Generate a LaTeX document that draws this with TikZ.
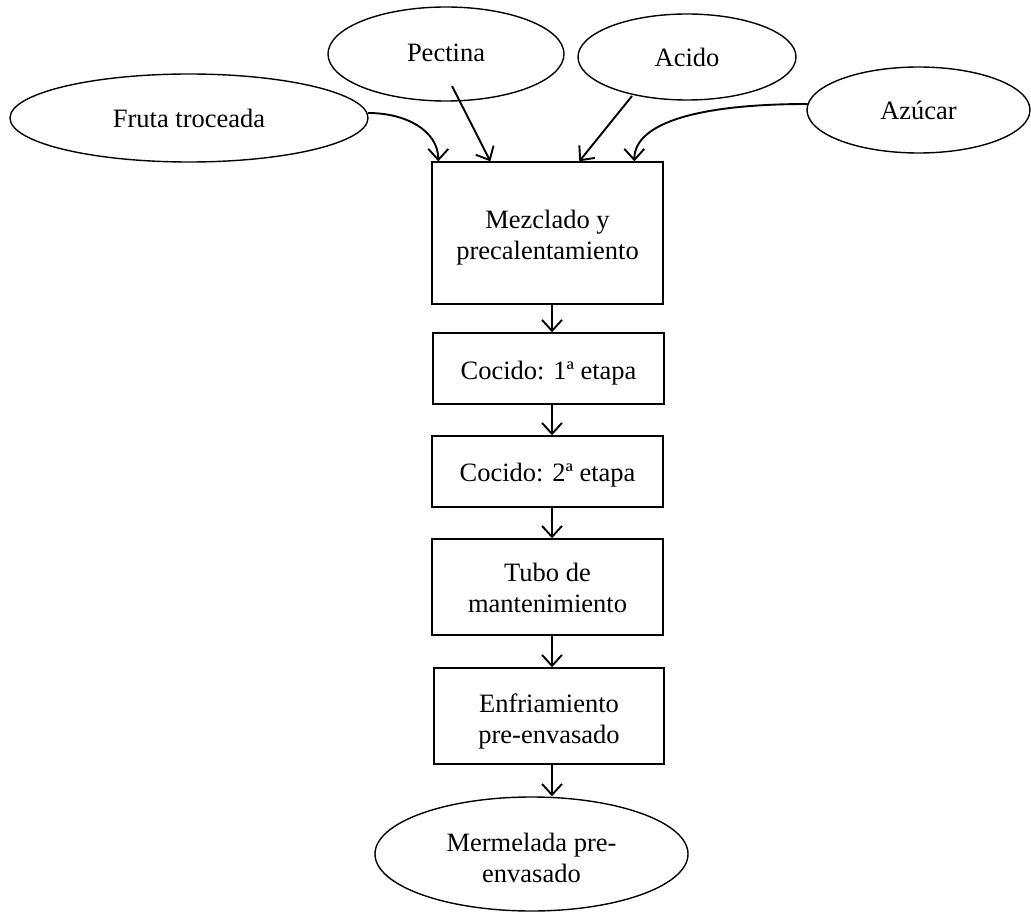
\documentclass[tikz,border=0pt]{standalone}
\usepackage{fontspec}
\setmainfont{Liberation Serif}
\usetikzlibrary{shapes.geometric,arrows.meta,calc}
\begin{document}
\begin{tikzpicture}[x=1pt,y=-1pt,
  font=\fontsize{26.5}{31}\selectfont,
  oval/.style={draw,ellipse,line width=1.4pt,inner sep=0pt,align=center},
  stepbox/.style={draw,rectangle,line width=1.4pt,inner sep=0pt,minimum width=231pt},
  steptext/.style={align=center,inner sep=0pt},
  flow/.style={line width=1.9pt,-{Straight Barb[length=11pt,width=20pt,line width=1.9pt]}}]
\useasboundingbox (0,0) rectangle (1031,912);
% input ellipses
\node[oval,minimum width=358pt,minimum height=88pt] (fruta) at (189,118) {Fruta troceada};
\node[oval,minimum width=236pt,minimum height=94pt] (pectina) at (446,54) {\raisebox{3pt}{Pectina}};
\node[oval,minimum width=218pt,minimum height=86pt] (acido) at (687,57) {Acido};
\node[oval,minimum width=223pt,minimum height=86pt] (azucar) at (918.5,110) {Azúcar};
% process boxes
\node[stepbox,minimum height=142pt] (mix) at (547.5,233) {};
\node[steptext] (mixt) at ([yshift=-5pt]mix.center) {Mezclado y\\precalentamiento};
\node[stepbox,minimum height=71pt] (c1) at (548.5,368.5) {};
\node[steptext] (c1t) at ([yshift=-5pt]c1.center) {Cocido: 1ª etapa};
\node[stepbox,minimum height=71pt] (c2) at (547.5,471.5) {};
\node[steptext] (c2t) at ([yshift=-4pt]c2.center) {Cocido: 2ª etapa};
\node[stepbox,minimum height=96pt] (tubo) at (547.5,587) {};
\node[steptext] (tubot) at ([yshift=-1pt]tubo.center) {Tubo de\\mantenimiento};
\node[stepbox,minimum width=230pt,minimum height=96pt] (enf) at (549,716) {};
\node[steptext] (enft) at ([yshift=-5pt]enf.center) {Enfriamiento\\pre-envasado};
\node[oval,minimum width=313pt,minimum height=114pt] (mer) at (531.5,854) {};
\node[steptext] (mert) at ([yshift=-4pt]mer.center) {Mermelada pre-\\envasado};
% input arrows
\draw[flow] ($(fruta.center)+(179,-5)$) .. controls ($(fruta.center)+(218,-5)$) and ($(mix.north west)+(7,-30)$) .. ($(mix.north west)+(7,0)$);
\draw[flow] ($(pectina.center)+(6,32)$) -- ($(mix.north west)+(59,0)$);
\draw[flow] ($(acido.center)+(-55,39)$) -- ($(mix.north west)+(148,0)$);
\draw[flow] ($(azucar.center)+(-111,-6)$) .. controls ($(azucar.center)+(-215,-6)$) and ($(mix.north west)+(203,-40)$) .. ($(mix.north west)+(203,0)$);
% flow arrows
\draw[flow] ([xshift=4.5pt]mix.south) -- ([xshift=4.5pt]mix.south |- c1.north);
\draw[flow] ([xshift=3.5pt]c1.south) -- ([xshift=3.5pt]c1.south |- c2.north);
\draw[flow] ([xshift=4.5pt]c2.south) -- ([xshift=4.5pt]c2.south |- tubo.north);
\draw[flow] ([xshift=4.5pt]tubo.south) -- ([xshift=4.5pt]tubo.south |- enf.north);
\draw[flow] ([xshift=3pt]enf.south) -- ([xshift=3pt]enf.south |- mer.north);
\end{tikzpicture}
\end{document}
